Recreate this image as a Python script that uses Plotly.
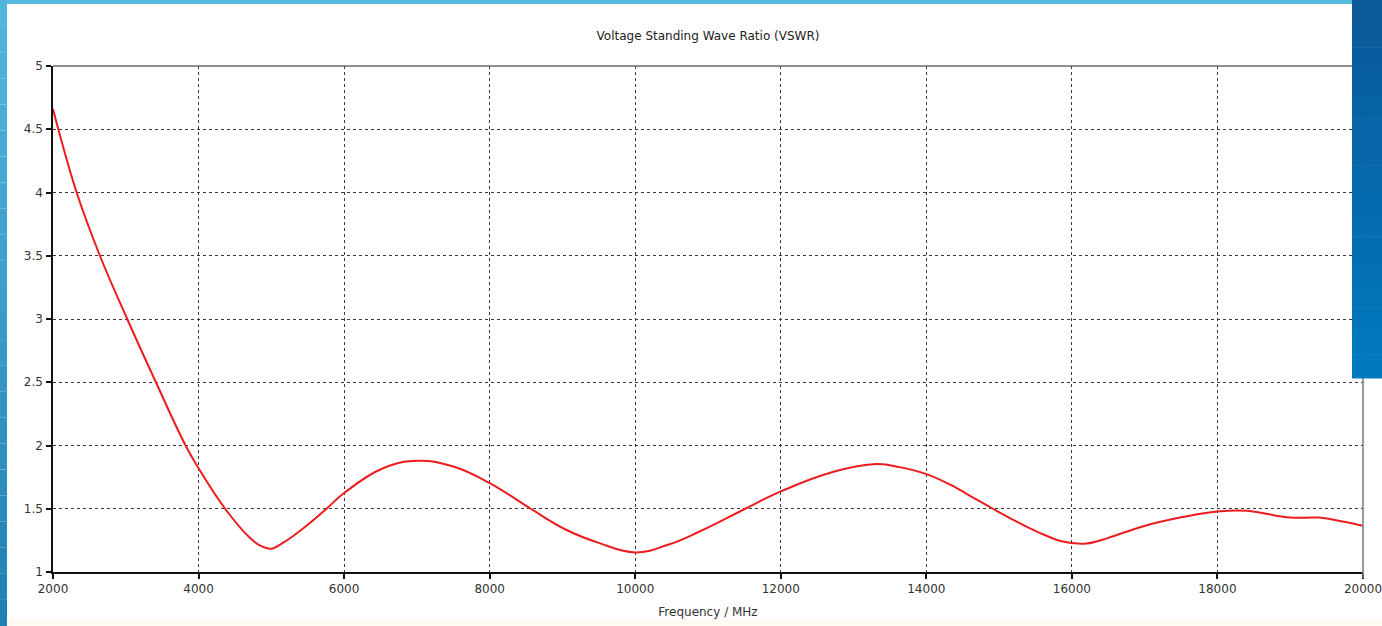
import plotly.graph_objects as go

# ---- data ----
freq_mhz = [2000, 2073, 2325, 2645, 3020, 3414, 3822, 4000, 4365, 4705, 4843, 4989, 5163,
            5300, 5530, 5758, 6000, 6535, 7016, 7500, 8000, 8564, 9050, 9500, 10000, 10450,
            10884, 11512, 12000, 12714, 13310, 13632, 14000, 14330, 14548, 14915, 15236,
            15557, 15832, 16000, 16200, 16500, 16971, 17520, 18000, 18404, 19000, 19398,
            19718, 20000]
vswr = [4.66, 4.50, 4.00, 3.50, 3.00, 2.50, 2.00, 1.82, 1.50, 1.27, 1.21, 1.184, 1.232,
        1.285, 1.387, 1.50, 1.624, 1.82, 1.879, 1.834, 1.703, 1.50, 1.334, 1.23, 1.155, 1.215,
        1.32, 1.50, 1.637, 1.79, 1.853, 1.829, 1.774, 1.69, 1.62, 1.50, 1.40,
        1.31, 1.247, 1.229, 1.225, 1.27, 1.36, 1.434, 1.479, 1.484, 1.43, 1.43,
        1.40, 1.366]

x_ticks = [2000, 4000, 6000, 8000, 10000, 12000, 14000, 16000, 18000, 20000]
y_ticks = [1, 1.5, 2, 2.5, 3, 3.5, 4, 4.5, 5]
y_tick_labels = ["1", "1.5", "2", "2.5", "3", "3.5", "4", "4.5", "5"]

title_text = "Voltage Standing Wave Ratio (VSWR)"
x_title = "Frequency / MHz"

# ---- layout geometry ----
W, H = 1382, 626
L, R, T, B = 53, 19, 66, 54
PW, PH = W - L - R, H - T - B


def px(xp):
    return (xp - L) / PW


def py(yp):
    return (H - B - yp) / PH


def lerp(c1, c2, t):
    return "rgb(%d,%d,%d)" % tuple(round(a + (b - a) * t) for a, b in zip(c1, c2))


shapes = []
# top and right frame lines (grey)
shapes.append(dict(type="line", xref="paper", yref="paper", x0=0, x1=1, y0=1, y1=1,
                   line=dict(color="#6a6a6a", width=1.5), layer="above"))
shapes.append(dict(type="line", xref="paper", yref="paper", x0=1, x1=1, y0=py(H - B + 6), y1=1,
                   line=dict(color="#7a7a7a", width=1.5), layer="above"))
# bottom cream strip
shapes.append(dict(type="rect", xref="paper", yref="paper", x0=px(0), x1=px(W),
                   y0=py(H), y1=py(619), fillcolor="#fffbf2", line_width=0, layer="below"))
# top light-blue band
shapes.append(dict(type="rect", xref="paper", yref="paper", x0=px(0), x1=px(W),
                   y0=py(4), y1=py(0), fillcolor="#56b9de", line_width=0, layer="above"))
# left gradient band
n = 24
top_c, bot_c = (82, 184, 222), (30, 128, 178)
for i in range(n):
    y0p = H * i / n
    y1p = H * (i + 1) / n
    shapes.append(dict(type="rect", xref="paper", yref="paper", x0=px(0), x1=px(7),
                       y0=py(y1p), y1=py(y0p), fillcolor=lerp(top_c, bot_c, (i + 0.5) / n),
                       line_width=0, layer="above"))
# right dark-blue panel (gradient)
top_c2, bot_c2 = (10, 88, 152), (0, 122, 192)
m = 16
for i in range(m):
    y0p = 378 * i / m
    y1p = 378 * (i + 1) / m
    shapes.append(dict(type="rect", xref="paper", yref="paper", x0=px(1352), x1=px(W),
                       y0=py(y1p + 0.5), y1=py(y0p), fillcolor=lerp(top_c2, bot_c2, (i + 0.5) / m),
                       line_width=0, layer="above"))

fig = go.Figure()
fig.add_trace(go.Scatter(
    x=freq_mhz, y=vswr, mode="lines",
    line=dict(color="#ec1c1f", width=2, shape="spline", smoothing=1.2),
    hoverinfo="x+y", showlegend=False,
))

font_family = "DejaVu Sans, Verdana, sans-serif"

fig.update_layout(
    width=W, height=H, autosize=False,
    margin=dict(l=L, r=R, t=T, b=B, pad=0, autoexpand=False),
    paper_bgcolor="white", plot_bgcolor="white",
    font=dict(family=font_family, size=12, color="#333333"),
    title=dict(text=title_text, xref="paper", x=px(708), xanchor="center",
               yref="container", y=1 - 36 / H, yanchor="middle", automargin=False,
               font=dict(size=12, color="#222222", family=font_family)),
    xaxis=dict(
        range=[2000, 20000], tickvals=x_ticks, ticktext=[str(v) for v in x_ticks],
        automargin=False, ticklabeloverflow="allow",
        showgrid=True, gridcolor="#3a3a3a", griddash="dot", gridwidth=1,
        showline=True, linecolor="#111111", linewidth=1.5, mirror=False,
        ticks="outside", ticklen=5, tickcolor="#111111", tickwidth=1.5,
        ticklabelstandoff=0,
        zeroline=False, tickfont=dict(size=12, color="#333333"),
        title=dict(text=x_title, standoff=12, font=dict(size=12, color="#333333")),
    ),
    yaxis=dict(
        range=[1, 5], tickvals=y_ticks, ticktext=y_tick_labels,
        automargin=False, ticklabeloverflow="allow",
        showgrid=True, gridcolor="#3a3a3a", griddash="dot", gridwidth=1,
        showline=True, linecolor="#111111", linewidth=1.5, mirror=False,
        ticks="outside", ticklen=5, tickcolor="#111111", tickwidth=1.5,
        ticklabelstandoff=1,
        zeroline=False, tickfont=dict(size=12, color="#333333"),
    ),
    shapes=shapes,
)

fig.write_html("out.html",
               config={"displayModeBar": False, "responsive": False},
               post_script="document.body.style.margin='0';document.body.style.overflow='hidden';")
